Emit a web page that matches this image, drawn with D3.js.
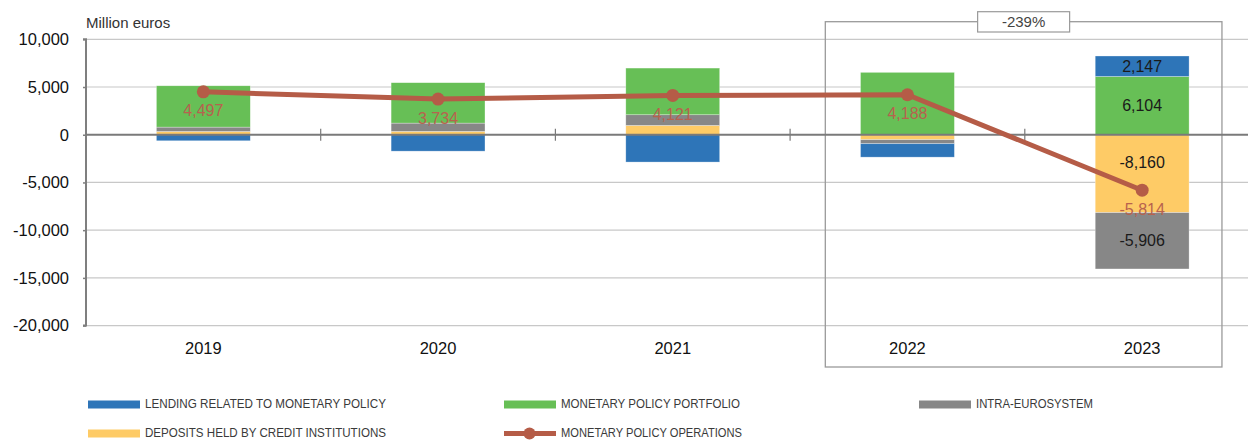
<!DOCTYPE html>
<html><head><meta charset="utf-8">
<script src="https://cdn.jsdelivr.net/npm/d3@7"></script>
<style>body{margin:0;background:#fff} svg{display:block}</style>
</head><body><svg id="c" width="1248" height="441"></svg>
<script>
// ---- data ----
const years = ["2019", "2020", "2021", "2022", "2023"];
const deposits  = [340, 350, 975, -524, -8160];
const intra     = [460, 870, 1120, -419, -5906];
const portfolio = [4330, 4234, 4890, 6536, 6104];
const lending   = [-633, -1720, -2864, -1405, 2147];
const operations = [4497, 3734, 4121, 4188, -5814];
const yTicks = [10000, 5000, 0, -5000, -10000, -15000, -20000];
const unitLabel = "Million euros";
const changeLabel = "-239%";
const segLabelYears = ["2023"];
const legendNames = {
  lending: "LENDING RELATED TO MONETARY POLICY",
  portfolio: "MONETARY POLICY PORTFOLIO",
  intra: "INTRA-EUROSYSTEM",
  deposits: "DEPOSITS HELD BY CREDIT INSTITUTIONS",
  operations: "MONETARY POLICY OPERATIONS"
};

(function () {
// ---- styles ----
const colors = {deposits: "#fecb66", intra: "#878787", portfolio: "#67bf56", lending: "#2e75b8", operations: "#b55c47"};
const font = "'Liberation Sans', Arial, Helvetica, sans-serif";
const narrow = "'Liberation Sans Narrow', 'Arial Narrow', 'Liberation Sans', Arial, sans-serif";

const locale = d3.formatLocale({decimal: ".", thousands: ",", grouping: [3], currency: ["", ""], minus: "-"});
const fmt = locale.format(",");

const svg = d3.select("#c");
const pl = 86, pr = 1259.5, pt = 39.3, pb = 325.6;

const x = d3.scaleBand().domain(years).range([pl, pr]).paddingInner(0.6).paddingOuter(0.3);
const step = x.step();
const y = d3.scaleLinear().domain([-20000, 10000]).range([pb, pt]);

const keys = ["deposits", "intra", "portfolio", "lending"];
const table = years.map((yr, i) => ({year: yr, deposits: deposits[i], intra: intra[i], portfolio: portfolio[i], lending: lending[i]}));
const stacked = d3.stack().keys(keys).offset(d3.stackOffsetDiverging)(table);

// gridlines
svg.append("g").selectAll("line").data(yTicks.filter(t => t !== 0)).join("line")
  .attr("x1", pl).attr("x2", 1248).attr("y1", d => y(d)).attr("y2", d => y(d))
  .attr("stroke", "#c8c8c8").attr("stroke-width", 1.2);

// highlight box
const boxL = x("2022") - 0.15 * step, boxR = x("2023") + x.bandwidth() + 0.14 * step;
svg.append("rect").attr("x", boxL).attr("y", 21.7).attr("width", boxR - boxL).attr("height", 367 - 21.7)
  .attr("fill", "none").attr("stroke", "#9a9a9a").attr("stroke-width", 1.3);

// y axis
const yAxis = svg.append("g").attr("transform", `translate(${pl},0)`)
  .call(d3.axisLeft(y).tickValues(yTicks).tickSize(3).tickPadding(14).tickFormat(fmt));
yAxis.select(".domain").attr("stroke", "#7f7f7f").attr("stroke-width", 2).attr("d", `M-3,${pt}H0V${pb}H-3`);
yAxis.selectAll(".tick line").attr("stroke", "#7f7f7f").attr("stroke-width", 1.5);
yAxis.selectAll(".tick text").attr("font-family", font).attr("font-size", 16.5).attr("fill", "#111");

// bars
const segs = svg.append("g");
stacked.forEach(s => {
  segs.append("g").selectAll("rect").data(s).join("rect")
    .attr("x", d => x(d.data.year)).attr("width", x.bandwidth())
    .attr("y", d => y(Math.max(d[0], d[1])))
    .attr("height", d => Math.abs(y(d[0]) - y(d[1])))
    .attr("fill", colors[s.key])
    .attr("stroke", "rgba(255,255,255,0.5)").attr("stroke-width", 0.6);
});

// zero line
svg.append("line").attr("x1", pl).attr("x2", 1248).attr("y1", y(0)).attr("y2", y(0))
  .attr("stroke", "#7a7a7a").attr("stroke-width", 2);
// category separator ticks
svg.append("g").selectAll("line").data(d3.range(1, years.length)).join("line")
  .attr("x1", i => pl + i * step).attr("x2", i => pl + i * step)
  .attr("y1", y(0) - 6).attr("y2", y(0) + 6).attr("stroke", "#7a7a7a").attr("stroke-width", 1.2);

// x labels
svg.append("g").selectAll("text").data(years).join("text")
  .attr("x", d => x(d) + x.bandwidth() / 2).attr("y", 354)
  .attr("text-anchor", "middle").attr("font-family", font).attr("font-size", 16.5).attr("fill", "#111")
  .text(d => d);

// line
const cx = d => x(d) + x.bandwidth() / 2;
const pts = years.map((yr, i) => ({year: yr, v: operations[i]}));
svg.append("path").datum(pts)
  .attr("d", d3.line().x(d => cx(d.year)).y(d => y(d.v)))
  .attr("fill", "none").attr("stroke", colors.operations).attr("stroke-width", 5).attr("stroke-linejoin", "round");
svg.append("g").selectAll("circle").data(pts).join("circle")
  .attr("cx", d => cx(d.year)).attr("cy", d => y(d.v)).attr("r", 6.5).attr("fill", colors.operations);

const lineLabelY = d => y(d.v) + 19;
svg.append("g").selectAll("text").data(pts).join("text")
  .attr("x", d => cx(d.year)).attr("y", d => lineLabelY(d)).attr("dy", "0.35em")
  .attr("text-anchor", "middle").attr("font-family", font).attr("font-size", 16)
  .attr("fill", "#b8624e").text(d => fmt(d.v));

// segment labels
stacked.forEach(s => {
  s.forEach((d, i) => {
    if (!segLabelYears.includes(d.data.year)) return;
    let ly = (y(d[0]) + y(d[1])) / 2;
    const lo = Math.min(d[0], d[1]), hi = Math.max(d[0], d[1]);
    const p = pts[i];
    if (p.v >= lo && p.v <= hi) ly = lineLabelY(p) - 47;
    svg.append("text").attr("x", cx(d.data.year)).attr("y", ly).attr("dy", "0.35em")
      .attr("text-anchor", "middle").attr("font-family", font).attr("font-size", 16).attr("fill", "#1a1a1a")
      .text(fmt(d.data[s.key]));
  });
});

// change label box
const midBox = (boxL + boxR) / 2;
svg.append("rect").attr("x", midBox - 46).attr("y", 11.7).attr("width", 92).attr("height", 20.3)
  .attr("fill", "#fff").attr("stroke", "#9a9a9a").attr("stroke-width", 1.2);
svg.append("text").attr("x", midBox).attr("y", 22).attr("dy", "0.35em").attr("text-anchor", "middle")
  .attr("font-family", font).attr("font-size", 15).attr("fill", "#444").text(changeLabel);

// unit label
svg.append("text").attr("x", pl).attr("y", 28).attr("font-family", font).attr("font-size", 15)
  .attr("fill", "#333").text(unitLabel);

// legend
const legend = [
  {k: "lending", x: 88, y: 404.5, w: 241},
  {k: "portfolio", x: 504, y: 404.5, w: 179},
  {k: "intra", x: 919, y: 404.5, w: 117},
  {k: "deposits", x: 88, y: 433.5, w: 241},
  {k: "operations", x: 504, y: 433.5, w: 181}
];
const lg = svg.append("g").selectAll("g").data(legend).join("g").attr("transform", d => `translate(${d.x},${d.y})`);
lg.each(function(d) {
  const g = d3.select(this);
  if (d.k === "operations") {
    g.append("line").attr("x1", 0).attr("x2", 52).attr("y1", 0).attr("y2", 0)
      .attr("stroke", colors.operations).attr("stroke-width", 5);
    g.append("circle").attr("cx", 25.5).attr("cy", 0).attr("r", 6).attr("fill", colors.operations);
  } else {
    g.append("rect").attr("x", 0).attr("y", -4).attr("width", 52).attr("height", 8).attr("fill", colors[d.k]);
  }
  g.append("text").attr("x", 57).attr("y", -0.5).attr("dy", "0.33em")
    .attr("font-family", narrow).attr("font-size", 13.5).attr("fill", "#3a3a3a")
    .attr("textLength", d.w).attr("lengthAdjust", "spacingAndGlyphs")
    .text(legendNames[d.k]);
});
})();
</script></body></html>
